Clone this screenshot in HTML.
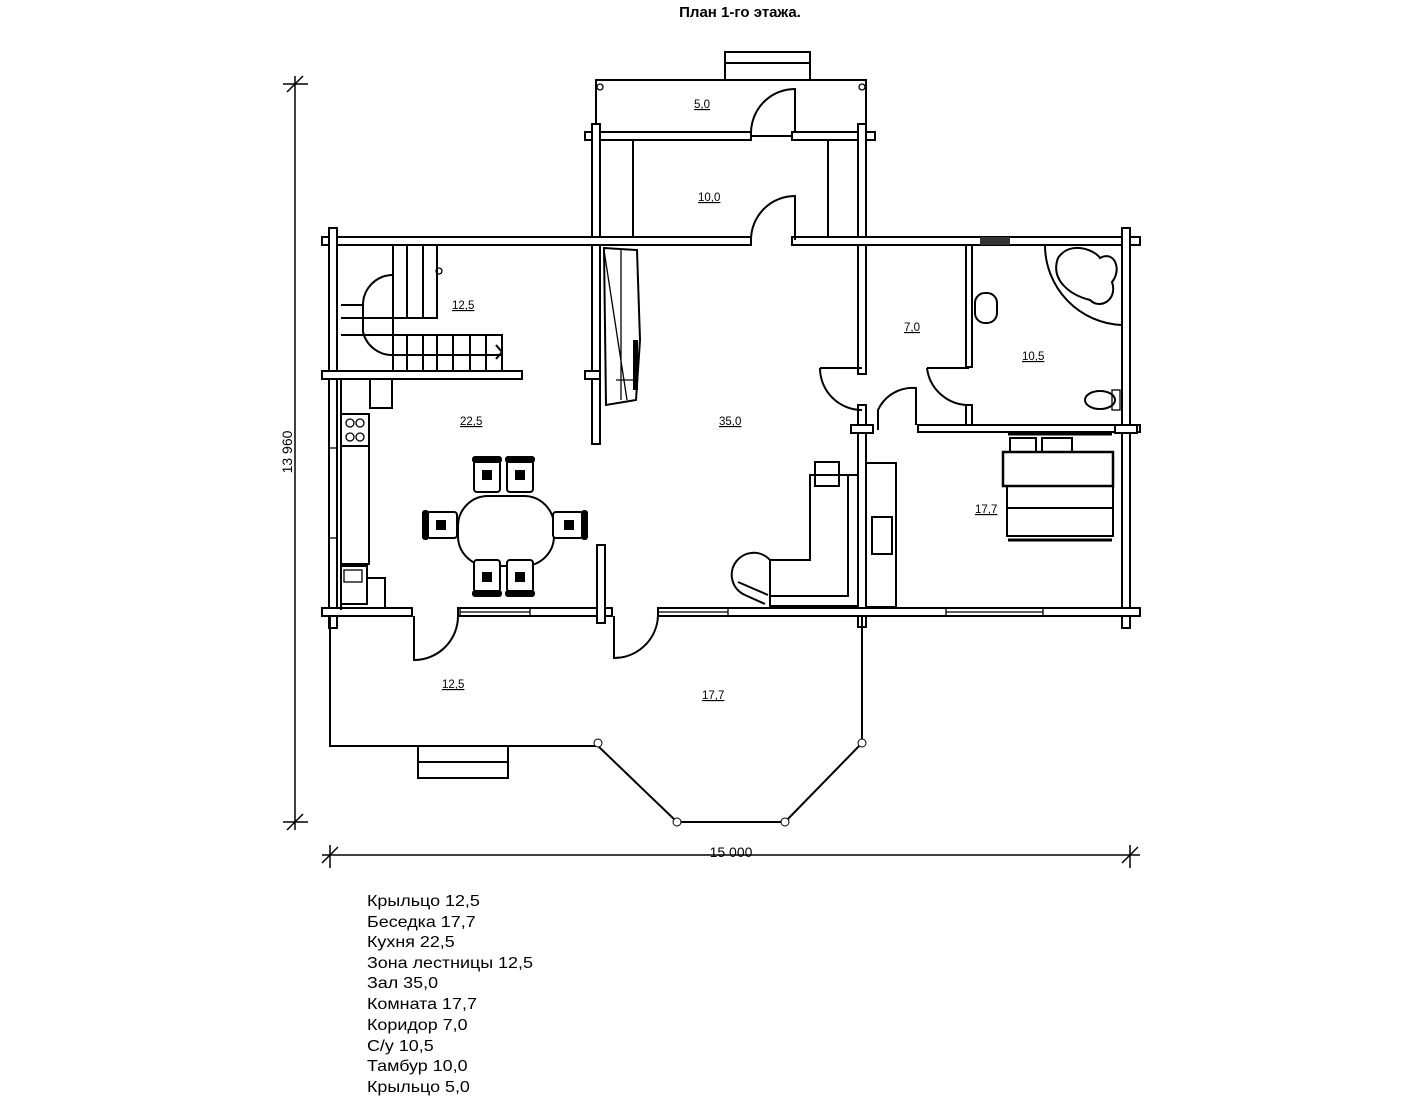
<!DOCTYPE html>
<html><head><meta charset="utf-8"><style>
body{margin:0;background:#fff;width:1422px;height:1100px;overflow:hidden}
svg{display:block}
text{font-family:"Liberation Sans",sans-serif;fill:#000}
.w{fill:#fff;stroke:#000;stroke-width:2}
.l{fill:none;stroke:#000;stroke-width:2}
.t{fill:none;stroke:#000;stroke-width:1.3}
.lb{font-size:11.5px;text-decoration:underline}
.lg{font-size:16px}
</style></head><body>
<svg width="1422" height="1100" viewBox="0 0 1422 1100">
<text x="740" y="17" font-size="15" font-weight="bold" text-anchor="middle">План 1-го этажа.</text>

<rect x="725" y="52" width="85" height="28" class="l"/><line x1="725" y1="63" x2="810" y2="63" class="l"/>
<rect x="596" y="80" width="270" height="56" class="l"/>
<circle cx="600" cy="87" r="3" class="t"/><circle cx="862" cy="87" r="3" class="t"/>

<g>
<rect x="585" y="132" width="166" height="8" class="w"/>
<rect x="792" y="132" width="83" height="8" class="w"/>
<rect x="592" y="124" width="8" height="320" class="w"/>
<rect x="858" y="124" width="8" height="250" class="w"/>
<line x1="633" y1="140" x2="633" y2="238" class="l"/>
<line x1="828" y1="140" x2="828" y2="238" class="l"/>
<rect x="322" y="237" width="429" height="8" class="w"/>
<rect x="792" y="237" width="348" height="8" class="w"/>
<rect x="329" y="228" width="8" height="400" class="w"/>
<rect x="1122" y="228" width="8" height="400" class="w"/>
<rect x="322" y="371" width="200" height="8" class="w"/>
<rect x="585" y="371" width="15" height="8" class="w"/>
<rect x="966" y="245" width="6" height="122" class="w"/>
<rect x="966" y="405" width="6" height="22" class="w"/>
<rect x="918" y="425" width="222" height="7" class="w"/>
<rect x="858" y="405" width="8" height="222" class="w"/>
<rect x="851" y="425" width="22" height="8" class="w"/>
<rect x="322" y="608" width="90" height="8" class="w"/>
<rect x="458" y="608" width="154" height="8" class="w"/>
<rect x="658" y="608" width="482" height="8" class="w"/>
<rect x="597" y="545" width="8" height="78" class="w"/>
<rect x="1115" y="425" width="22" height="8" class="w"/>
</g>
<rect x="460" y="608" width="70" height="8" class="t"/><line x1="460" y1="612" x2="530" y2="612" class="t"/>
<rect x="658" y="608" width="70" height="8" class="t"/><line x1="658" y1="612" x2="728" y2="612" class="t"/>
<rect x="946" y="608" width="97" height="8" class="t"/><line x1="946" y1="612" x2="1043" y2="612" class="t"/>
<rect x="980" y="237" width="30" height="8" fill="#333"/>
<rect x="329" y="448" width="8" height="90" class="t"/>

<path d="M751 133 A44 44 0 0 1 795 89 V133" class="l"/>
<path d="M751 240 A44 44 0 0 1 795 196 V240" class="l"/>
<path d="M414 616 V660 A44 44 0 0 0 458 616" class="l"/>
<path d="M614 616 V658 A44 44 0 0 0 658 616" class="l"/>
<path d="M820 368 A42 42 0 0 0 862 410" class="l"/><line x1="820" y1="368" x2="862" y2="368" class="l"/>
<path d="M878 430 V410 A38 38 0 0 1 916 388 V425" class="l"/>
<path d="M927 368 A42 42 0 0 0 969 405" class="l"/><line x1="927" y1="368" x2="969" y2="368" class="l"/>

<path d="M330 616 V746 H598 L677 822 H785 L862 743 V616" class="l"/>
<circle cx="598" cy="743" r="4" fill="#fff" stroke="#000"/>
<circle cx="862" cy="743" r="4" fill="#fff" stroke="#000"/>
<circle cx="677" cy="822" r="4" fill="#fff" stroke="#000"/>
<circle cx="785" cy="822" r="4" fill="#fff" stroke="#000"/>
<rect x="418" y="746" width="90" height="32" class="l"/><line x1="418" y1="762" x2="508" y2="762" class="l"/>

<g class="l">
<path d="M393 245 V371 M407 245 V318 M423 245 V318 M437 245 V318 H341"/>
<path d="M341 335 H502 V371 M407 335 V371 M423 335 V371 M437 335 V371 M453 335 V371 M470 335 V371 M486 335 V371"/>
<path d="M393 275 A30 30 0 0 0 363 305 V332 A30 30 0 0 0 393 355 H502"/>
<path d="M341 305 H363"/>
<path d="M496 345 L502 352 L496 359"/>
</g>
<circle cx="439" cy="271" r="3" class="t"/>

<path d="M341 379 V610 M370 379 V408 H392 V379" class="l"/>
<rect x="341" y="414" width="28" height="32" class="l"/>
<circle cx="350" cy="423" r="4" class="t"/><circle cx="360" cy="423" r="4" class="t"/>
<circle cx="350" cy="437" r="4" class="t"/><circle cx="360" cy="437" r="4" class="t"/>
<rect x="341" y="446" width="28" height="118" class="l"/>
<rect x="341" y="566" width="26" height="38" class="l"/><rect x="344" y="570" width="18" height="12" class="t"/>
<path d="M367 578 H385 V608" class="l"/>

<path d="M604 248 L637 250 L640 340 L636 400 L606 405 Z" class="l"/>
<path d="M604 250 L627 400 M621 250 V400 M616 380 H635" class="t"/>
<rect x="633" y="340" width="5" height="50" fill="#000"/>

<rect x="458" y="496" width="96" height="70" rx="30" class="l"/>
<g stroke="#000" stroke-width="2" fill="#fff">
<rect x="474" y="460" width="26" height="32" rx="3"/><rect x="507" y="460" width="26" height="32" rx="3"/>
<rect x="474" y="560" width="26" height="32" rx="3"/><rect x="507" y="560" width="26" height="32" rx="3"/>
<rect x="427" y="512" width="30" height="26" rx="3"/><rect x="553" y="512" width="30" height="26" rx="3"/>
</g>
<g fill="#000">
<rect x="472" y="456" width="30" height="7" rx="3"/><rect x="505" y="456" width="30" height="7" rx="3"/>
<rect x="472" y="590" width="30" height="7" rx="3"/><rect x="505" y="590" width="30" height="7" rx="3"/>
<rect x="422" y="510" width="7" height="30" rx="3"/><rect x="581" y="510" width="7" height="30" rx="3"/>
<rect x="482" y="470" width="10" height="10"/><rect x="515" y="470" width="10" height="10"/>
<rect x="482" y="572" width="10" height="10"/><rect x="515" y="572" width="10" height="10"/>
<rect x="436" y="520" width="10" height="10"/><rect x="564" y="520" width="10" height="10"/>
</g>

<g class="l">
<path d="M810 475 H858 V606 H770 V560 H810 Z"/>
<path d="M848 475 V596 H770"/>
<rect x="815" y="462" width="24" height="24"/>
<path d="M770 560 A22 22 0 1 0 745 595 L765 604"/>
<path d="M738 582 L768 595"/>
<rect x="866" y="463" width="30" height="144"/>
<rect x="872" y="517" width="20" height="37"/>
</g>

<path d="M1045 245 A80 80 0 0 0 1122 325" class="l"/>
<path d="M1058 258 C1070 240 1095 250 1100 258 C1115 250 1122 270 1112 282 C1118 300 1100 310 1090 300 C1070 295 1050 280 1058 258 Z" class="l"/>
<rect x="975" y="293" width="22" height="30" rx="10" class="l"/>
<ellipse cx="1100" cy="400" rx="15" ry="9" class="l"/><rect x="1112" y="390" width="8" height="20" class="t"/>

<g class="l">
<rect x="1003" y="452" width="110" height="34" stroke-width="2.5"/>
<rect x="1007" y="486" width="106" height="22"/>
<rect x="1007" y="508" width="106" height="28"/>
<rect x="1010" y="438" width="26" height="14"/><rect x="1042" y="438" width="30" height="14"/>
<path d="M1008 434 H1112 M1008 540 H1112" stroke-width="3"/>
</g>

<g class="lb">
<text x="694" y="108">5,0</text><text x="698" y="201">10,0</text>
<text x="452" y="309">12,5</text><text x="460" y="425">22,5</text>
<text x="719" y="425">35,0</text><text x="904" y="331">7,0</text>
<text x="1022" y="360">10,5</text><text x="975" y="513">17,7</text>
<text x="442" y="688">12,5</text><text x="702" y="699">17,7</text>
</g>

<g stroke="#000" stroke-width="1.5">
<line x1="295" y1="76" x2="295" y2="830"/>
<line x1="283" y1="84" x2="308" y2="84"/><line x1="287" y1="92" x2="303" y2="76"/>
<line x1="283" y1="822" x2="308" y2="822"/><line x1="287" y1="830" x2="303" y2="814"/>
<line x1="322" y1="855" x2="1140" y2="855"/>
<line x1="330" y1="845" x2="330" y2="868"/><line x1="322" y1="863" x2="338" y2="847"/>
<line x1="1130" y1="845" x2="1130" y2="868"/><line x1="1122" y1="863" x2="1138" y2="847"/>
</g>
<text x="0" y="0" font-size="14" text-anchor="middle" transform="translate(292,452) rotate(-90)">13 960</text>
<text x="731" y="857" font-size="14" text-anchor="middle">15 000</text>

<g class="lg" transform="translate(367,0) scale(1.12,1) translate(-367,0)">
<text x="367" y="906">Крыльцо 12,5</text>
<text x="367" y="927">Беседка 17,7</text>
<text x="367" y="947">Кухня 22,5</text>
<text x="367" y="968">Зона лестницы 12,5</text>
<text x="367" y="988">Зал 35,0</text>
<text x="367" y="1009">Комната 17,7</text>
<text x="367" y="1030">Коридор 7,0</text>
<text x="367" y="1051">С/у 10,5</text>
<text x="367" y="1071">Тамбур 10,0</text>
<text x="367" y="1092">Крыльцо 5,0</text>
</g>
</svg>
</body></html>
